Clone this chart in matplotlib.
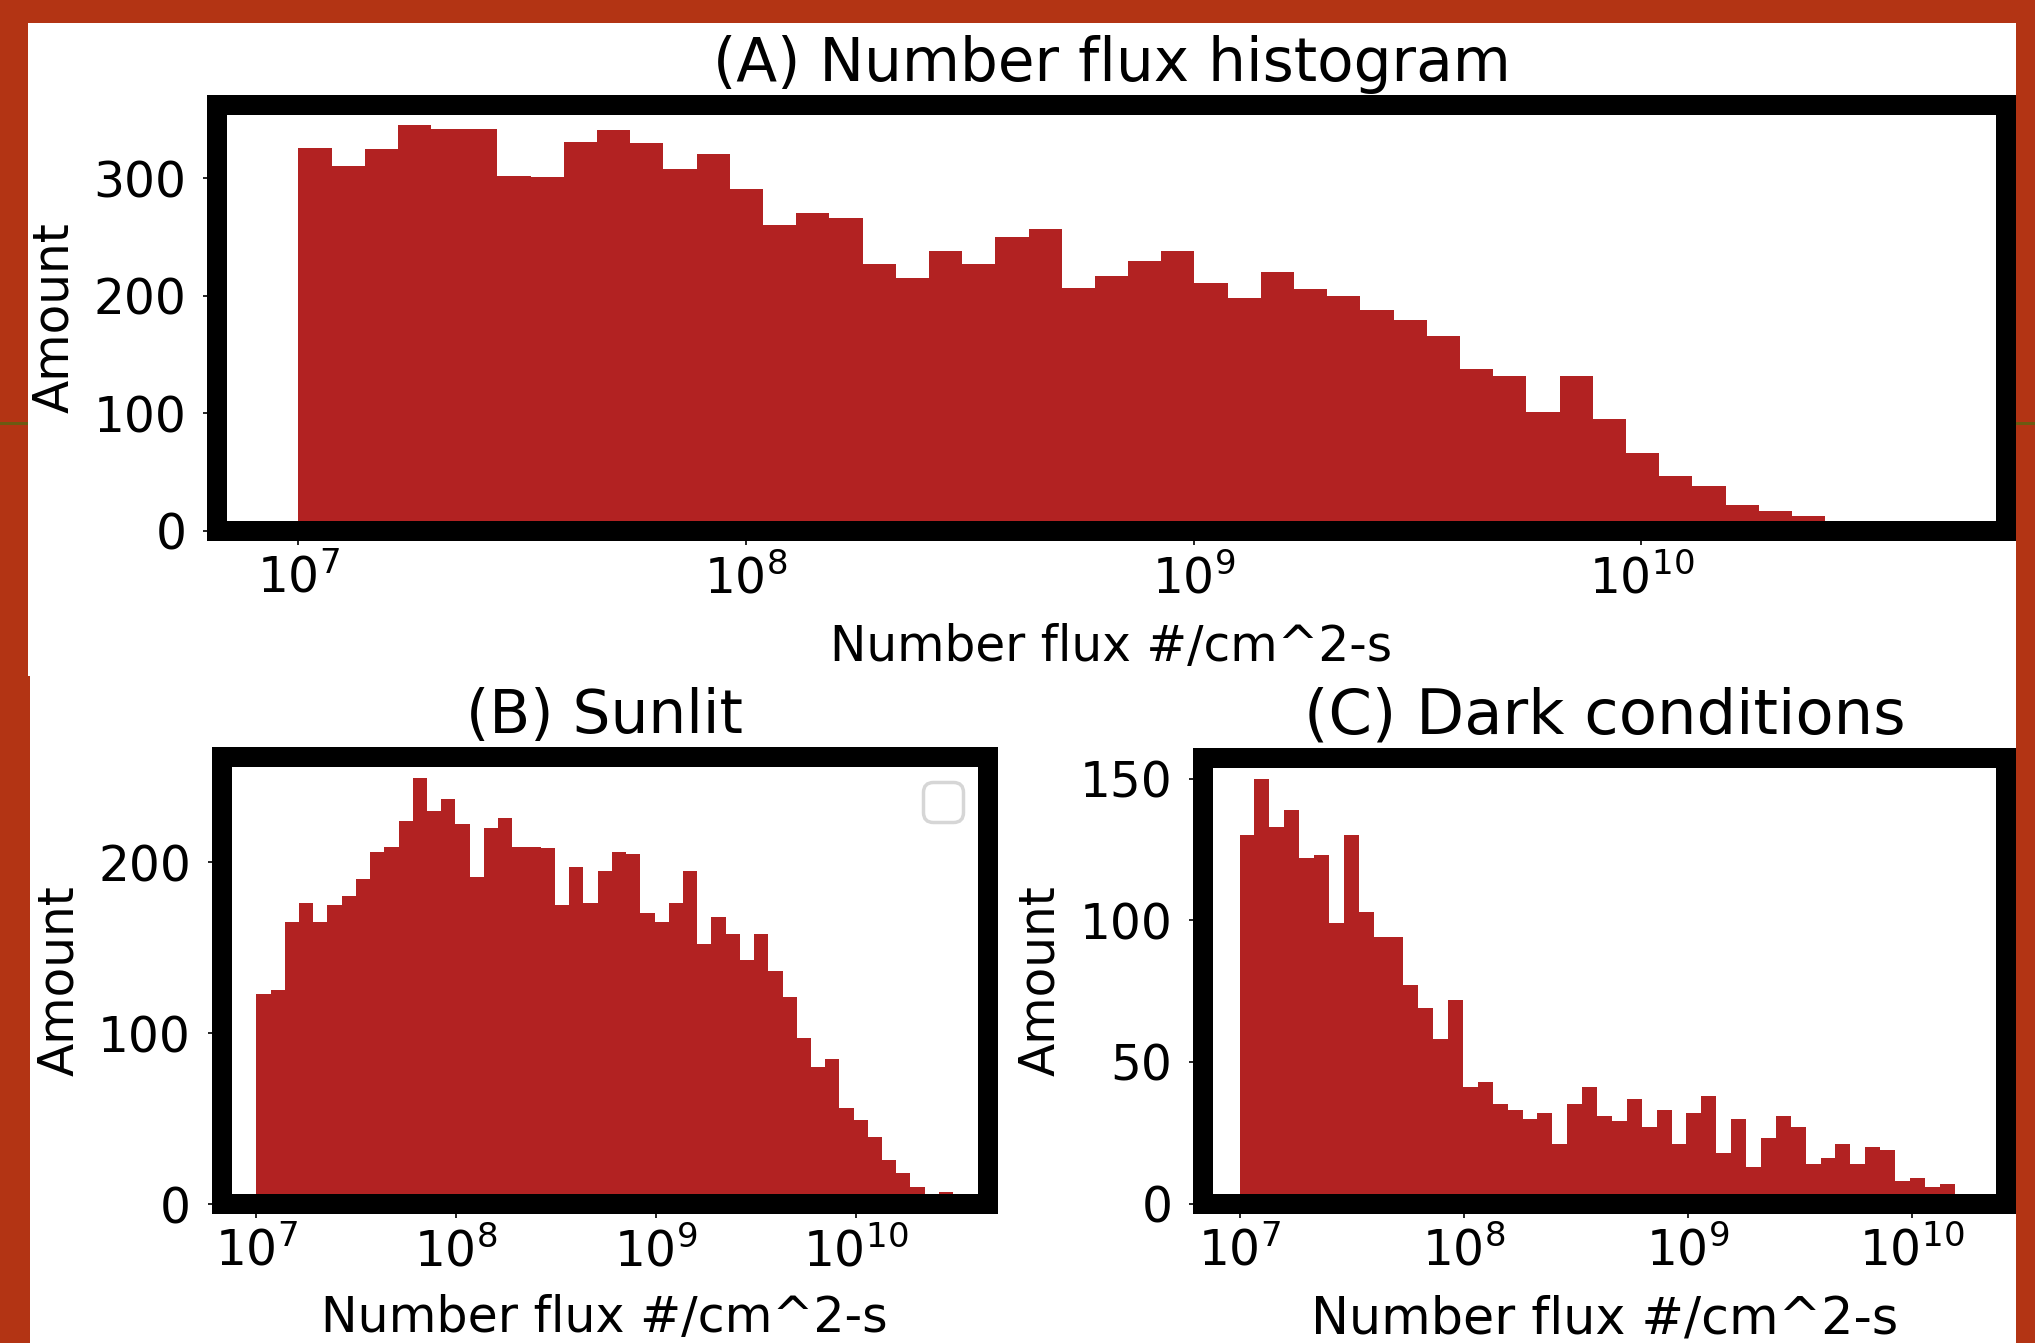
import logging
import numpy as np
import matplotlib
matplotlib.use("Agg")
import matplotlib.pyplot as plt
from matplotlib.patches import Rectangle
from matplotlib.ticker import NullLocator, MultipleLocator

logging.getLogger("matplotlib.legend").setLevel(logging.ERROR)

# ---------------- data (bin counts) ----------------
# log10 of first and last bin edge, 49 log-spaced bins each
edges_A_exp = (7.0, 10.633)
edges_B_exp = (7.0, 10.487)
edges_C_exp = (7.0, 10.256)
n_edges = 50

counts_A = [326, 310, 325, 345, 342, 342, 302, 301, 331, 341, 330, 308, 321,
            291, 260, 270, 266, 227, 215, 238, 227, 250, 257, 207, 217, 230,
            238, 211, 198, 220, 206, 200, 188, 179, 166, 138, 132, 101, 132,
            95, 66, 47, 38, 22, 17, 13, 5, 3, 1]
counts_B = [123, 125, 165, 176, 165, 175, 180, 190, 206, 209, 224, 249, 230,
            237, 222, 191, 220, 226, 209, 209, 208, 175, 197, 176, 195, 206,
            205, 170, 165, 176, 195, 152, 168, 158, 143, 158, 136, 121, 97,
            80, 85, 56, 49, 39, 26, 18, 10, 3, 7]
counts_C = [130, 150, 133, 139, 122, 123, 99, 130, 103, 94, 94, 77, 69, 58,
            72, 41, 43, 35, 33, 30, 32, 21, 35, 41, 31, 29, 37, 27, 33, 21,
            32, 38, 18, 30, 13, 23, 31, 27, 14, 16, 21, 14, 20, 19, 8, 9, 6,
            7, 1]

titles = ["(A) Number flux histogram", "(B) Sunlit", "(C) Dark conditions"]
xlabel = "Number flux #/cm^2-s"
ylabel = "Amount"

# ---------------- figure ----------------
W, H = 2035, 1343
ORANGE = "#B33414"
fig = plt.figure(figsize=(W / 100, H / 100), dpi=100, facecolor=ORANGE)


def fr(x0, y0, x1, y1):
    """pixel box (top-left origin) -> figure fraction rect"""
    return [x0 / W, 1 - y1 / H, (x1 - x0) / W, (y1 - y0) / H]


def add_rect(x0, y0, x1, y1, color, z=-10):
    r = Rectangle((x0 / W, 1 - y1 / H), (x1 - x0) / W, (y1 - y0) / H,
                  transform=fig.transFigure, facecolor=color,
                  edgecolor="none", zorder=z)
    fig.add_artist(r)


# white canvas inside the orange frame
add_rect(28, 23, 2016, 676, "white")
add_rect(30, 675, 2016, H + 2, "white")
# thin olive marks on the side strips
add_rect(0, 422, 28, 424.5, "#6B5A12", z=-9)
add_rect(2016, 422, W, 424.5, "#6B5A12", z=-9)

axA = fig.add_axes(fr(217, 105, 2006, 531))
axB = fig.add_axes(fr(221.5, 757, 988, 1204))
axC = fig.add_axes(fr(1203, 757.5, 2006, 1203.5))

# ax, bin range, counts, title, y step, ylabel centre y, xlabel top y,
# title size, xlabel size
panels = [
    (axA, edges_A_exp, counts_A, titles[0], 100, 318, 623, 43, 35),
    (axB, edges_B_exp, counts_B, titles[1], 100, 980.5, 1294, 43, 35.3),
    (axC, edges_C_exp, counts_C, titles[2], 50, 980.5, 1294, 45, 36.5),
]

for ax, (e0, e1), counts, title, ystep, ycen, xlab_top, tsz, xsz in panels:
    edges = np.logspace(e0, e1, n_edges)
    centers = np.sqrt(edges[:-1] * edges[1:])
    ax.set_xscale("log")
    ax.hist(centers, bins=edges, weights=counts, color="firebrick")
    ax.xaxis.set_minor_locator(NullLocator())
    ax.yaxis.set_major_locator(MultipleLocator(ystep))
    for sp in ax.spines.values():
        sp.set_linewidth(14.4)
        sp.set_capstyle("projecting")
        sp.set_color("black")
    ax.tick_params(axis="both", which="major", length=10, width=1.2,
                   labelsize=35)
    ax.tick_params(axis="y", pad=12)
    ax.tick_params(axis="x", pad=7)
    ax.set_title(title, fontsize=tsz, pad=17)
    ax.set_ylabel(ylabel, fontsize=35)
    ax.set_xlabel(xlabel, fontsize=xsz)
    # label placement (pixel positions measured on the reference)
    bb = ax.get_position()
    left_px = bb.x0 * W
    ax.yaxis.set_label_coords((left_px - 138.5) / W, 1 - ycen / H,
                              transform=fig.transFigure)
    ax.xaxis.set_label_coords((bb.x0 + bb.width / 2), 1 - xlab_top / H,
                              transform=fig.transFigure)

leg = axB.legend(loc="upper right", fontsize=36)
leg.get_frame().set_linewidth(2.5)

fig.savefig("out.png", dpi=100, facecolor=ORANGE)
